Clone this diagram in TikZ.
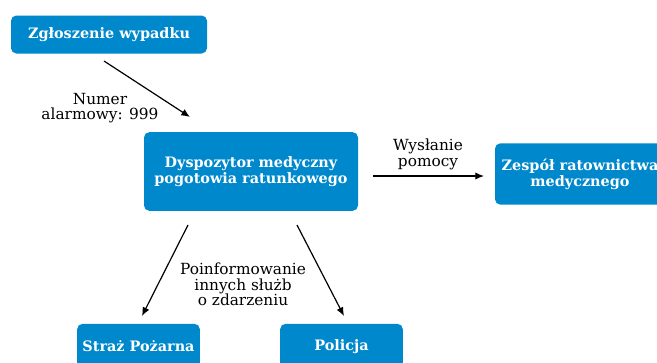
\documentclass[tikz,border=0pt]{standalone}
\usepackage{fontspec}
\setmainfont{DejaVu Serif}
\usetikzlibrary{arrows.meta}
\definecolor{boxblue}{RGB}{0,136,204}
\tikzset{
  box/.style={fill=boxblue, rounded corners=4pt, text=white, align=center,
    font=\fontsize{10.8}{12.2}\selectfont\bfseries, inner sep=0pt},
  lbl/.style={align=center, font=\fontsize{11.5}{11.8}\selectfont, inner sep=0pt},
  arr/.style={-{Latex[length=6.5pt,width=5.5pt]}, line width=0.9pt, black}
}
\begin{document}
\begin{tikzpicture}[x=0.75pt,y=-0.75pt]
\useasboundingbox (0,0) rectangle (657,362);
\node[box, minimum width=147pt, minimum height=28.5pt] (zg) at (109,34.5) {Zgłoszenie wypadku};
\node[box, minimum width=160.5pt, minimum height=59pt] (dy) at (251,171.5) {Dyspozytor medyczny\\pogotowia ratunkowego};
\node[box, minimum width=127.5pt, minimum height=46pt] (ze) at (580,174) {Zespół ratownictwa\\medycznego};
\node[box, minimum width=92pt, minimum height=34pt] (st) at (138.5,346.5) {Straż Pożarna};
\node[box, minimum width=92pt, minimum height=34pt] (po) at (341.5,346.5) {Policja};

\coordinate (a1s) at (104,61);
\coordinate (a1e) at (190,117);
\coordinate (a2s) at (373,176);
\coordinate (a2e) at (484,176);
\coordinate (a3s) at (188,225);
\coordinate (a3e) at (142,316);
\coordinate (a4s) at (297,225);
\coordinate (a4e) at (344,316);

\draw[arr] (a1s) -- (a1e);
\draw[arr] (a2s) -- (a2e);
\draw[arr] (a3s) -- (a3e);
\draw[arr] (a4s) -- (a4e);

\node[lbl] (l1) at (100,108) {Numer\\alarmowy: 999};
\node[lbl] (l2) at (428,154.5) {Wysłanie\\pomocy};
\node[lbl] (l3) at (243,284.5) {Poinformowanie\\innych służb\\o zdarzeniu};
\end{tikzpicture}
\end{document}
